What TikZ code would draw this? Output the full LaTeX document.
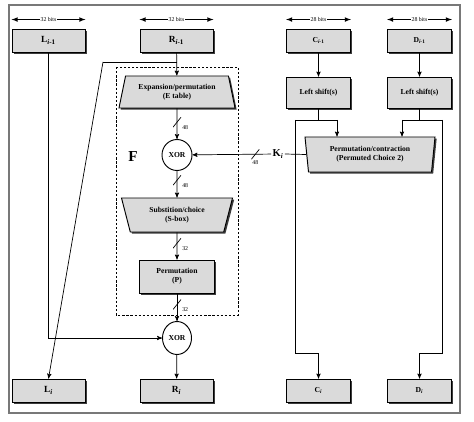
\documentclass[tikz,border=0pt]{standalone}
\usepackage{fontspec}
\setmainfont{Liberation Serif}
\usepackage{tikz}
\usetikzlibrary{arrows,shapes.geometric,shadows}
\definecolor{box_gray}{RGB}{218,218,218}
\definecolor{frame_gray}{RGB}{120,120,120}
\definecolor{shade_gray}{RGB}{60,60,60}

\begin{document}
\begin{tikzpicture}[->,semithick,>=stealth',x=0.3mm,y=-0.3mm]
    \tikzstyle{box}=[draw=black, thick, rectangle, fill=box_gray, text=black, align=center,
      font=\fontsize{6.5}{7.5}\selectfont\bfseries,
      drop shadow={shadow xshift=0.5mm, shadow yshift=-0.5mm, fill=shade_gray, opacity=1}]
    \tikzstyle{reg}=[box, minimum width=21.9mm, minimum height=6.9mm, font=\fontsize{8}{9}\selectfont\bfseries]
    \tikzstyle{half}=[box, minimum width=19.2mm]
    \tikzstyle{trap}=[box, trapezium, trapezium stretches body, inner sep=1pt]
    \tikzstyle{xor}=[draw=black, thick, ellipse, fill=white, inner sep=0pt, font=\fontsize{6.5}{7.5}\selectfont\bfseries]
    \tikzstyle{bits}=[<->, >=latex, thick]
    \tikzstyle{bitlbl}=[fill=white, inner sep=0.5pt, font=\fontsize{5}{6}\selectfont]
    \tikzstyle{slash}=[inner sep=0pt, minimum width=2.4mm, minimum height=3mm,
      path picture={\draw[-, black, semithick] (path picture bounding box.south west) -- (path picture bounding box.north east);}]
    \tikzstyle{lbl}=[inner sep=0.5pt, font=\fontsize{5}{6}\selectfont]

    \useasboundingbox (0,0) rectangle (474,421);
    \draw[-, frame_gray, line width=1.2pt] (9,5) rectangle (460,413);
    \draw[-, dash pattern=on 2pt off 1.5pt, thick] (116,67) rectangle (238,315);

    % top registers
    \node[reg] (Lp) at (48.5,40.5)  {L\textsubscript{\textit{i}-1}};
    \node[reg] (Rp) at (176.5,40.5) {R\textsubscript{\textit{i}-1}};
    \node[reg, half] (Cp) at (318.5,40.5) {C\textsubscript{\textit{i}-1}};
    \node[reg, half] (Dp) at (419.5,40.5) {D\textsubscript{\textit{i}-1}};

    % round function F
    \node[trap, minimum width=34.8mm, minimum height=9.6mm, trapezium angle=70] (E) at (177,92) {Expansion/permutation\\(E table)};
    \node[xor, minimum width=9mm, minimum height=9.3mm] (X1) at (177,155) {XOR};
    \node[trap, minimum width=33.3mm, minimum height=10.2mm, trapezium angle=64, shape border rotate=180] (S) at (177,215) {Substition/choice\\(S-box)};
    \node[box, minimum width=22.5mm, minimum height=9.9mm] (P) at (177,276.5) {Permutation\\(P)};
    \node[xor, minimum width=8.7mm, minimum height=9.9mm] (X2) at (177,338) {XOR};
    \node[font=\fontsize{13}{15}\selectfont\bfseries] (F) at (133,157) {F};

    % key schedule
    \node[box, half, minimum height=9.3mm] (Cls) at (318.5,92.5) {Left shift(s)};
    \node[box, half, minimum height=9.3mm] (Dls) at (419.5,92.5) {Left shift(s)};
    \node[trap, minimum width=39mm, minimum height=10.5mm, trapezium angle=79, shape border rotate=180] (PC) at (370,154.5) {Permutation/contraction\\(Permuted Choice 2)};
    \node[font=\fontsize{9}{10}\selectfont\bfseries, inner sep=1pt] (K) at (278,154) {K\textsubscript{\textit{i}}};

    % bottom registers
    \node[reg] (Ln) at (48.5,390.5)  {L\textsubscript{\textit{i}}};
    \node[reg] (Rn) at (176.5,390.5) {R\textsubscript{\textit{i}}};
    \node[reg, half] (Cn) at (318.5,390.5) {C\textsubscript{\textit{i}}};
    \node[reg, half] (Dn) at (419.5,390.5) {D\textsubscript{\textit{i}}};

    \coordinate (br) at (177,62);
    \coordinate (bl) at (103,62);
    \coordinate (ca) at (295,120);
    \coordinate (cb) at (337,120);
    \coordinate (cc) at (295,353);
    \coordinate (da) at (402,120);
    \coordinate (db) at (442,120);
    \coordinate (dc) at (442,353);

    \path
     ([yshift=2.7mm]Lp.north west) edge[bits] node[bitlbl] {32 bits} ([yshift=2.7mm]Lp.north east)
     ([yshift=2.7mm]Rp.north west) edge[bits] node[bitlbl] {32 bits} ([yshift=2.7mm]Rp.north east)
     ([yshift=2.7mm]Cp.north west) edge[bits] node[bitlbl] {28 bits} ([yshift=2.7mm]Cp.north east)
     ([yshift=2.7mm]Dp.north west) edge[bits] node[bitlbl] {28 bits} ([yshift=2.7mm]Dp.north east)
     (Rp) edge[] (E)
     (E) edge[] node[slash, pos=.45, label={[lbl]-30:48}] {} (X1)
     (K) edge[] node[slash, pos=.2, label={[lbl]-90:48}] {} (X1)
     (X1) edge[] node[slash, pos=.35, label={[lbl]-30:48}] {} (S)
     (S) edge[] node[slash, pos=.4, label={[lbl]-30:32}] {} (P)
     (P) edge[] node[slash, pos=.4, label={[lbl]-30:32}] {} (X2)
     (X2) edge[] (Rn)
     (Cp) edge[] (Cls)
     (Dp) edge[] (Dls)
     (PC.west) edge[-] (K.east)
     (br) edge[-] (bl)
     (bl) edge[] (Ln.north)
     (Cls) edge[-] (Cls.south |- ca)
     (ca) edge[-] (cb)
     (cb) edge[] (cb |- PC.north)
     (Dls) edge[-] (Dls.south |- da)
     (da) edge[-] (db)
     (da) edge[] (da |- PC.north)
     ;
    \draw (Lp) -- (Lp.south |- X2.west) -- (X2.west);
    \draw (ca) -- (cc) -- (cc -| Cn.north) -- (Cn.north);
    \draw (db) -- (dc) -- (dc -| Dn.north) -- (Dn.north);
\end{tikzpicture}
\end{document}
